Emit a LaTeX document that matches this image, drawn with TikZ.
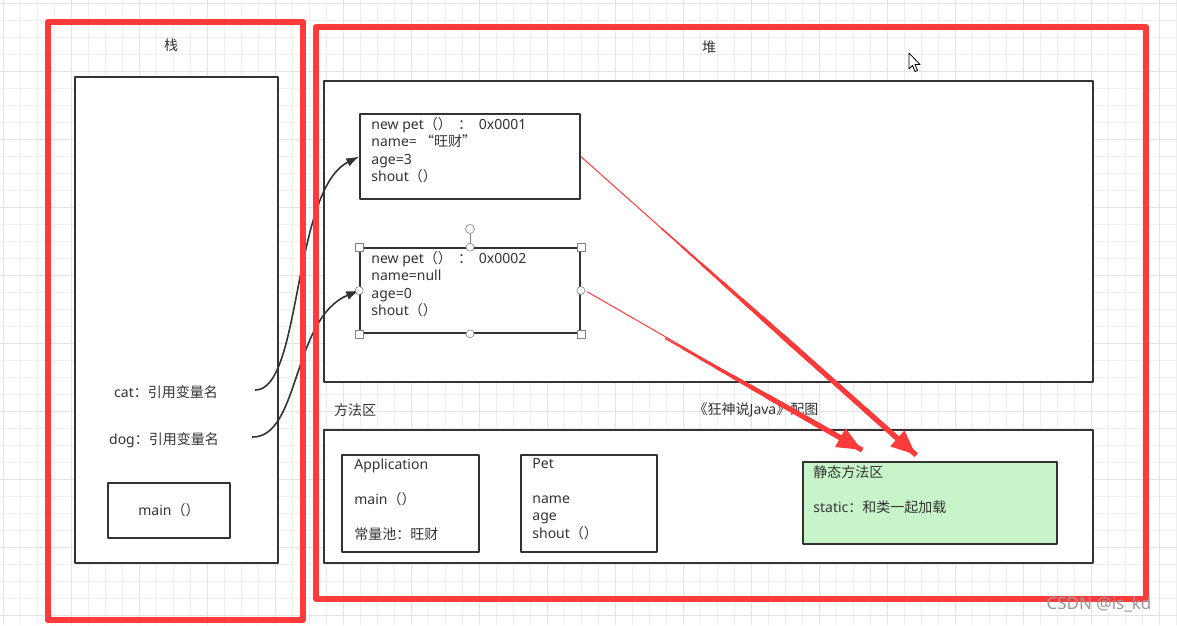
\documentclass[tikz,border=0pt]{standalone}
\usepackage{fontspec}
\setmainfont{Noto Sans}
\newfontfamily\zh{Noto Sans CJK SC}
\usetikzlibrary{arrows.meta,positioning}
\definecolor{markred}{RGB}{255,58,58}
\definecolor{inkgray}{RGB}{51,51,51}
\definecolor{gridminor}{RGB}{238,238,238}
\definecolor{gridmajor}{RGB}{226,226,226}
\definecolor{staticgreen}{RGB}{200,244,202}

\tikzset{
  region/.style={draw=inkgray,line width=1.8pt,fill=white,inner sep=0pt},
  membox/.style={draw=inkgray,line width=1.6pt,fill=white,inner sep=0pt},
  lbl/.style={font=\fontsize{14}{17.5}\selectfont,text=inkgray,inner sep=0pt},
  block/.style={lbl,align=left,execute at begin node=\strut},
  link/.style={draw=inkgray,line width=1.6pt,-{Latex[length=13pt,width=9pt]}},
  redframe/.style={draw=markred,line width=6pt},
  hint/.style={draw=markred,line width=1pt},
  bigarrow/.style={draw=markred,line width=5pt,-{Triangle[length=25pt,width=20pt]}},
  handle/.style={draw=gray,fill=white,line width=0.6pt},
}

\begin{document}
\begin{tikzpicture}[x=1pt,y=-1pt,line join=round]
  \useasboundingbox (0,0) rectangle (1177,625);
  \fill[white] (0,0) rectangle (1177,625);
  % drawing-board grid
  \foreach \g in {3,20,...,1177}{\draw[gridminor,line width=0.6pt] (\g,0) -- (\g,625);}
  \foreach \g in {3,20,...,625}{\draw[gridminor,line width=0.6pt] (0,\g) -- (1177,\g);}
  \foreach \g in {3,71,...,1177}{\draw[gridmajor,line width=0.8pt] (\g,0) -- (\g,625);}
  \foreach \g in {3,71,...,625}{\draw[gridmajor,line width=0.8pt] (0,\g) -- (1177,\g);}

  % stack
  \node[lbl] (stacklbl) at (171,45) {\zh 栈};
  \node[region,minimum width=203,minimum height=486] (stack) at (176.5,320) {};
  \node[lbl] (cat) at (166,392) {cat{\zh：引用变量名}};
  \node[lbl] (dog) at (164,440) {dog{\zh：引用变量名}};
  \node[region,minimum width=122,minimum height=55] (mainfn) at (169,510.5) {};
  \node[lbl] (maintxt) at (mainfn) {main{\zh（）}};

  % heap
  \node[lbl] (heaplbl) at (709,47) {\zh 堆};
  \node[region,minimum width=769,minimum height=301] (heap) at (708.5,231.5) {};
  \node[membox,minimum width=220,minimum height=85] (obj1) at (470,156.5) {};
  \node[block,below right=4pt and 12pt of obj1.north west] (obj1txt)
    {new pet{\zh（）\ \ ：\ }\ 0x0001\\name={\zh\ “旺财”}\\age=3\\shout{\zh（）}};
  \node[membox,minimum width=220,minimum height=85] (obj2) at (470,290.5) {};
  \node[block,below right=4pt and 12pt of obj2.north west] (obj2txt)
    {new pet{\zh（）\ \ ：\ }\ 0x0002\\name=null\\age=0\\shout{\zh（）}};

  % method area
  \node[lbl] (methlbl) at (355,410) {\zh 方法区};
  \node[lbl] (credit) at (756,410) {{\zh《狂神说}Java{\zh》配图}};
  \node[region,minimum width=769,minimum height=133] (method) at (708.5,496.5) {};
  \node[membox,minimum width=137,minimum height=97] (app) at (410.5,503.5) {};
  \node[block,below right=4pt and 13pt of app.north west] (apptxt)
    {Application\\[17.5pt]main{\zh（）}\\[17.5pt]{\zh 常量池：旺财}};
  \node[membox,minimum width=136,minimum height=97] (petcls) at (589,503.5) {};
  \node[block,below right=4pt and 12pt of petcls.north west] (petclstxt)
    {Pet\\[17.5pt]name\\age\\shout{\zh（）}};
  \node[membox,fill=staticgreen,minimum width=254,minimum height=82] (static) at (930,503) {};
  \node[block,below right=4pt and 11pt of static.north west] (statictxt)
    {{\zh 静态方法区}\\[17.5pt]static{\zh：和类一起加载}};

  % references from the stack into the heap
  \coordinate (catout) at (255,390);
  \coordinate (dogout) at (252,437);
  \draw[link] (catout) .. controls (302,391) and (292,190) .. (obj1.west);
  \draw[link] (dogout) .. controls (300,438) and (292,318) .. (obj2.west);

  % the two red frames
  \draw[redframe] (47.5,22) rectangle (303,620);
  \draw[redframe] (316,27) rectangle (1146,599);

  % red hints towards the static area, thickening as they go
  \coordinate (tip1) at (916,455);
  \coordinate (tip2) at (862,450);
  \draw[hint] (obj1.east) -- (tip1);
  \draw[hint] (obj2.east) ++(6,1) -- (tip2);
  \foreach \p/\w in {0.24/1.5,0.30/2.1,0.36/2.7,0.42/3.3,0.48/3.9,0.54/4.5,0.60/5}{
    \path (obj1.east) -- (tip1) coordinate[pos=\p] (from1);
    \path (obj2.east) -- (tip2) coordinate[pos=\p+0.06] (from2);
    \draw[markred,line width=\w pt] (from1) -- (tip1);
    \draw[markred,line width=\w pt] (from2) -- (tip2);
  }
  \path (obj1.east) -- (tip1) coordinate[pos=0.85] (thick1);
  \path (obj2.east) -- (tip2) coordinate[pos=0.8] (thick2);
  \draw[bigarrow] (thick1) -- (tip1);
  \draw[bigarrow] (thick2) -- (tip2);

  % selection handles on the second object
  \draw[handle] (obj2.north) -- (470,229);
  \draw[handle] (470,229) circle (4.5);
  \foreach \a in {north west,north east,south west,south east}{\draw[handle] (obj2.\a) +(-4,-4) rectangle +(4,4);}
  \foreach \a in {north,south,west,east}{\draw[handle] (obj2.\a) circle (4);}

  % mouse pointer
  \draw[fill=white,line width=0.8pt] (909,53) -- (909,69) -- (912.5,65.5) -- (915,71.5) -- (917.5,70.5) -- (915,64.5) -- (920,64.5) -- cycle;

  \node[text=gray!80,font=\fontsize{17}{17}\selectfont,inner sep=0pt] (mark) at (1099,604) {CSDN @is\_kd};
\end{tikzpicture}
\end{document}
